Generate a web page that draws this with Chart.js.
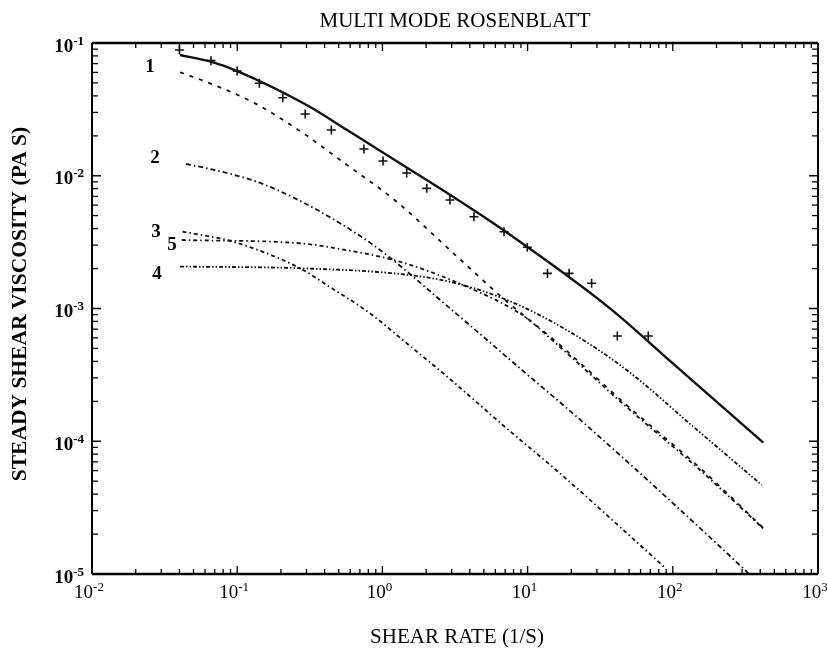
<!DOCTYPE html>
<html>
<head>
<meta charset="utf-8">
<script src="https://cdn.jsdelivr.net/npm/chart.js@4.4.1/dist/chart.umd.min.js"></script>
<style>
  body { margin: 0; background: #fff; }
  #wrap { width: 827px; height: 648px; }
</style>
</head>
<body>
<div id="wrap"><canvas id="myChart" width="827" height="648"></canvas></div>
<script>
// measured points (+)
const rateData = [0.04, 0.066, 0.1, 0.142, 0.206, 0.294, 0.445, 0.746, 1.01, 1.47, 2.02, 2.92, 4.27, 6.88, 9.95, 13.7, 19.3, 27.6, 41.5, 67.8];
const viscData = [0.0886, 0.0736, 0.0615, 0.0497, 0.0387, 0.0292, 0.0221, 0.0159, 0.0129, 0.0105, 0.00804, 0.00657, 0.00491, 0.00379, 0.00289, 0.00184, 0.00184, 0.00155, 0.00062, 0.00062];

// total of all modes (solid)
const totalRate = [0.0404, 0.0657, 0.1, 0.301, 0.568, 1.32, 3.32, 6.8, 36.9, 100, 420];
const totalVisc = [0.0812, 0.0723, 0.0615, 0.0341, 0.0222, 0.01242, 0.00656, 0.0039, 0.001003, 0.000386, 0.0000975];

// single modes
const mode1Rate = [0.0404, 0.065, 0.1326, 0.285, 0.524, 1.254, 3.0, 6.8, 16.7, 48.1, 154, 420];
const mode1Visc = [0.0602, 0.0497, 0.0351, 0.0209, 0.0129, 0.00637, 0.00268, 0.00119, 0.000531, 0.000187, 0.0000629, 0.0000222];
const mode2Rate = [0.0444, 0.065, 0.1362, 0.2635, 0.5105, 0.963, 2.92, 8.87, 26.9, 306, 335];
const mode2Visc = [0.01226, 0.01125, 0.00902, 0.00657, 0.00439, 0.00276, 0.001003, 0.000354, 0.000125, 0.000011, 0.00001];
const mode3Rate = [0.042, 0.094, 0.2707, 0.4355, 0.8214, 1.47, 2.77, 7.18, 16.7, 77.5, 88];
const mode3Visc = [0.0038, 0.00318, 0.00201, 0.00145, 0.00092, 0.000547, 0.000309, 0.000125, 0.0000573, 0.0000127, 0.0000112];
const mode4Rate = [0.0404, 0.2707, 1.32, 2.92, 6.8, 17.6, 48.1, 138, 410];
const mode4Visc = [0.00207, 0.00201, 0.00182, 0.00159, 0.00119, 0.000713, 0.000344, 0.000129, 0.0000468];
const mode5Rate = [0.0415, 0.2707, 0.4355, 1.32, 3.81, 9.34, 16.7, 48.1, 154, 420];
const mode5Visc = [0.00328, 0.0031, 0.00289, 0.00225, 0.00146, 0.00088, 0.000513, 0.000181, 0.0000607, 0.000022];

const xTickValues = [0.01, 0.1, 1, 10, 100, 1000];
const xTickExp = ['-2', '-1', '0', '1', '2', '3'];
const yTickValues = [0.1, 0.01, 0.001, 0.0001, 0.00001];
const yTickExp = ['-1', '-2', '-3', '-4', '-5'];

const modeLabels = ['1', '2', '3', '4', '5'];

const serif = '"Liberation Serif", "Times New Roman", serif';

function pts(xs, ys) {
  return xs.map((v, i) => ({ x: v, y: ys[i] }));
}

function curve(xs, ys, dash, width) {
  return {
    data: pts(xs, ys),
    showLine: true,
    borderColor: '#111',
    borderWidth: width,
    borderDash: dash,
    pointRadius: 0,
    cubicInterpolationMode: 'monotone',
    fill: false
  };
}

function drawPow(ctx, exp, x, base, align, bold) {
  const w = bold ? 'bold ' : '';
  ctx.font = w + '19px ' + serif;
  const wm = ctx.measureText('10').width;
  ctx.font = w + '13px ' + serif;
  const ws = ctx.measureText(exp).width;
  let start = x;
  if (align === 'center') start = x - (wm + ws) / 2;
  if (align === 'right') start = x - (wm + ws);
  ctx.textAlign = 'left';
  ctx.textBaseline = 'alphabetic';
  ctx.font = w + '19px ' + serif;
  ctx.fillText('10', start, base);
  ctx.font = w + '13px ' + serif;
  ctx.fillText(exp, start + wm, base - 7);
}

// frame, inward ticks and all the text
const framePlugin = {
  id: 'frame',
  afterDraw(chart) {
    const { ctx, chartArea: a, scales: { x, y } } = chart;
    ctx.save();
    ctx.strokeStyle = '#000';
    ctx.fillStyle = '#000';

    ctx.lineWidth = 1.3;
    for (let e = -2; e < 3; e++) {
      for (let m = 1; m < 10; m++) {
        const px = x.getPixelForValue(m * Math.pow(10, e));
        const len = m === 1 ? 8 : 5;
        ctx.beginPath();
        ctx.moveTo(px, a.bottom); ctx.lineTo(px, a.bottom - len);
        ctx.moveTo(px, a.top); ctx.lineTo(px, a.top + len);
        ctx.stroke();
      }
    }
    for (let e = -5; e < -1; e++) {
      for (let m = 1; m < 10; m++) {
        const py = y.getPixelForValue(m * Math.pow(10, e));
        const len = m === 1 ? 9 : 6;
        ctx.beginPath();
        ctx.moveTo(a.left, py); ctx.lineTo(a.left + len, py);
        ctx.moveTo(a.right, py); ctx.lineTo(a.right - len, py);
        ctx.stroke();
      }
    }

    ctx.lineWidth = 2.5;
    ctx.beginPath();
    ctx.moveTo(a.left, a.top); ctx.lineTo(a.right, a.top);
    ctx.moveTo(a.left, a.bottom); ctx.lineTo(a.right, a.bottom);
    ctx.stroke();
    ctx.lineWidth = 2;
    ctx.beginPath();
    ctx.moveTo(a.left, a.top); ctx.lineTo(a.left, a.bottom);
    ctx.moveTo(a.right, a.top); ctx.lineTo(a.right, a.bottom);
    ctx.stroke();

    xTickValues.forEach((v, i) => {
      drawPow(ctx, xTickExp[i], x.getPixelForValue(v) - 3, a.bottom + 24, 'center', false);
    });
    yTickValues.forEach((v, i) => {
      drawPow(ctx, yTickExp[i], a.left - 8, y.getPixelForValue(v) + 8.5, 'right', true);
    });

    ctx.textAlign = 'center';
    ctx.textBaseline = 'alphabetic';
    ctx.font = '21px ' + serif;
    ctx.fillText('MULTI MODE ROSENBLATT', (a.left + a.right) / 2, 27);
    ctx.fillText('SHEAR RATE (1/S)', (a.left + a.right) / 2 + 2, 643);

    ctx.save();
    ctx.translate(20, 304);
    ctx.rotate(-Math.PI / 2);
    ctx.textBaseline = 'middle';
    ctx.font = 'bold 21.5px ' + serif;
    ctx.fillText('STEADY SHEAR VISCOSITY (PA S)', 0, 0);
    ctx.restore();

    // mode numbers next to the curve starts
    ctx.font = 'bold 19px ' + serif;
    ctx.textBaseline = 'middle';
    ctx.fillText(modeLabels[0], 150, 67);
    ctx.fillText(modeLabels[1], 155, 158);
    ctx.fillText(modeLabels[2], 156, 232);
    ctx.fillText(modeLabels[3], 157, 274);
    ctx.fillText(modeLabels[4], 172, 245);
    ctx.restore();
  }
};

const ctx = document.getElementById('myChart').getContext('2d');
const myChart = new Chart(ctx, {
  type: 'scatter',
  data: {
    datasets: [
      curve(totalRate, totalVisc, [], 2.4),
      curve(mode1Rate, mode1Visc, [4, 6], 1.8),
      curve(mode2Rate, mode2Visc, [5, 3, 1.5, 3], 1.8),
      curve(mode3Rate, mode3Visc, [4, 3, 1.5, 3], 1.8),
      curve(mode4Rate, mode4Visc, [4, 2, 1.5, 2, 1.5, 2], 1.8),
      curve(mode5Rate, mode5Visc, [4, 3, 1.5, 3], 1.8),
      {
        data: pts(rateData, viscData),
        showLine: false,
        pointStyle: 'cross',
        pointRadius: 4.5,
        pointBorderWidth: 1.6,
        borderColor: '#111',
        backgroundColor: '#111'
      }
    ]
  },
  options: {
    responsive: false,
    animation: false,
    layout: { padding: { left: 92, right: 9, top: 43, bottom: 74 } },
    plugins: { legend: { display: false }, tooltip: { enabled: false }, title: { display: false } },
    scales: {
      x: {
        type: 'logarithmic', min: 0.01, max: 1000,
        grid: { display: false }, border: { display: false },
        ticks: { display: false },
        afterFit: (s) => { s.height = 0; }
      },
      y: {
        type: 'logarithmic', min: 0.00001, max: 0.1,
        grid: { display: false }, border: { display: false },
        ticks: { display: false },
        afterFit: (s) => { s.width = 0; }
      }
    }
  },
  plugins: [framePlugin]
});
</script>
</body>
</html>
